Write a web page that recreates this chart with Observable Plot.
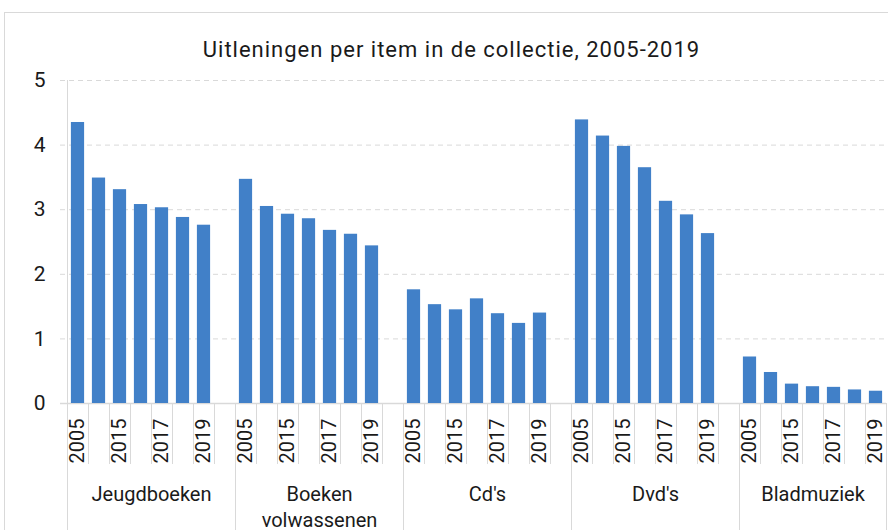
<!DOCTYPE html>
<html>
<head>
<meta charset="utf-8">
<script src="https://cdn.jsdelivr.net/npm/d3@7"></script>
<script src="https://cdn.jsdelivr.net/npm/@observablehq/plot@0.6"></script>
<style>
  html, body { margin: 0; padding: 0; background: #fff; }
  #wrap { position: relative; width: 888px; height: 530px; overflow: hidden; font-family: Roboto, sans-serif; }
  #frame { position: absolute; left: 4px; top: 12px; width: 1000px; height: 1000px; border-left: 1px solid #d9d9d9; border-top: 1px solid #d9d9d9; }
  #title { position: absolute; left: 451.5px; top: 38.5px; transform: translateX(-50%); white-space: nowrap; font-size: 22px; letter-spacing: 1px; line-height: 1; color: #1a1a1a; }
  #chart { position: absolute; left: 0; top: 0; }
</style>
</head>
<body>
<div id="wrap">
  <div id="frame"></div>
  <div id="chart"></div>
  <div id="title">Uitleningen per item in de collectie, 2005-2019</div>
</div>
<script>
// ---- data ----
const categories = ["Jeugdboeken", "Boeken\nvolwassenen", "Cd's", "Dvd's", "Bladmuziek"];
const years = ["2005", "2010", "2015", "2016", "2017", "2018", "2019"];
const jeugdboeken       = [4.35, 3.49, 3.31, 3.08, 3.03, 2.88, 2.76];
const boekenVolwassenen = [3.47, 3.05, 2.93, 2.86, 2.68, 2.62, 2.44];
const cds               = [1.76, 1.53, 1.45, 1.62, 1.39, 1.24, 1.40];
const dvds              = [4.39, 4.14, 3.98, 3.65, 3.13, 2.92, 2.63];
const bladmuziek        = [0.72, 0.48, 0.30, 0.26, 0.25, 0.21, 0.19];
const yTicks = [0, 1, 2, 3, 4, 5];
// every other year label is shown on the axis
const shownYears = ["2005", "2015", "2017", "2019"];

const series = [jeugdboeken, boekenVolwassenen, cds, dvds, bladmuziek];

// each group: 7 year slots + 1 empty slot (the last group has no trailing empty slot)
const slotsPerGroup = years.length + 1;
const totalSlots = categories.length * slotsPerGroup - 1;

const rows = [];
categories.forEach((cat, g) => {
  years.forEach((yr, i) => {
    rows.push({category: cat, year: yr, value: series[g][i], slot: g * slotsPerGroup + i});
  });
});

const groups = categories.map((cat, g) => {
  const start = g * slotsPerGroup;
  const end = Math.min(start + slotsPerGroup, totalSlots);
  return {category: cat, start, end, center: (start + end) / 2};
});

const boundaries = [0, ...groups.map(d => d.end)];
const innerTicks = [];
for (let s = 1; s < totalSlots; s++) if (!boundaries.includes(s)) innerTicks.push(s);

const labelRows = rows.filter(d => shownYears.includes(d.year));
const labelAt = new Map(labelRows.map(d => [d.slot + 0.5, d.year]));

const grey = "#d9d9d9";

const plot = Plot.plot({
  width: 888,
  height: 530,
  marginTop: 80,
  marginBottom: 127,
  marginLeft: 67,
  marginRight: 2,
  style: {fontFamily: "Roboto, sans-serif", fontSize: "20px", color: "#1a1a1a", background: "transparent"},
  x: {type: "linear", domain: [0, totalSlots]},
  y: {domain: [0, 5]},
  marks: [
    Plot.ruleY(yTicks.filter(t => t > 0), {stroke: grey, strokeDasharray: "5,4", insetLeft: -7}),
    Plot.ruleY([0], {stroke: grey, strokeWidth: 1.5, insetLeft: -7}),
    Plot.ruleX([0], {stroke: grey}),
    Plot.axisX({ticks: innerTicks, tickSize: 61, tickFormat: () => "", stroke: grey, strokeOpacity: 1, label: null}),
    Plot.axisX({ticks: boundaries, tickSize: 130, tickFormat: () => "", stroke: grey, strokeOpacity: 1, label: null}),
    Plot.rectY(rows, {x1: "slot", x2: d => d.slot + 1, y: "value", fill: "#4180c8", insetLeft: 3.9, insetRight: 3.9}),
    Plot.axisY({ticks: yTicks, tickFormat: "d", tickSize: 0, tickPadding: 22, label: null, fontSize: 21}),
    Plot.axisX({ticks: [...labelAt.keys()], tickFormat: v => labelAt.get(v), tickSize: 0, tickPadding: 15, tickRotate: -90, fontSize: 20, label: null}),
    Plot.text(groups, {x: "center", text: "category", frameAnchor: "bottom", dy: 79, lineAnchor: "top", fontSize: 20, lineHeight: 1.3, style: "letter-spacing: 0.6px"})
  ]
});
document.getElementById("chart").appendChild(plot);
</script>
</body>
</html>
